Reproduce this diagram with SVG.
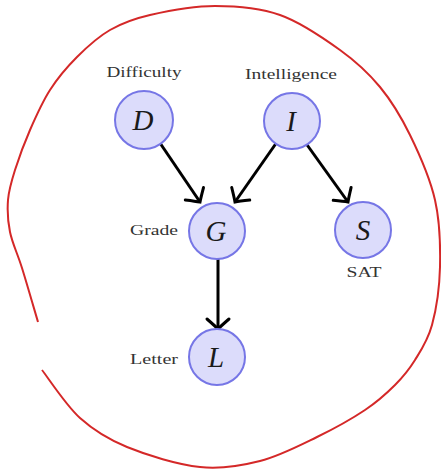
<svg xmlns="http://www.w3.org/2000/svg" width="441" height="469" viewBox="0 0 441 469">
<style>
.node circle{fill:#dcdcfb;stroke:#7676e6;stroke-width:2}
.node text.v{font-family:"Liberation Serif",serif;font-style:italic;font-size:29px;fill:#1a1a1a;text-anchor:middle}
.lbl{font-family:"Liberation Serif",serif;font-size:15px;fill:#333;text-anchor:middle}
.edge{stroke:#000;stroke-width:3;fill:none}
</style>
<defs>
<marker id="ah" markerUnits="userSpaceOnUse" markerWidth="30" markerHeight="30" refX="0" refY="0" viewBox="-15 -15 30 30" orient="auto" overflow="visible">
<path d="M-10,-11 Q-3,-3 0,0 Q-3,3 -10,11" fill="none" stroke="#000" stroke-width="3" stroke-linecap="round"/>
</marker>
</defs>
<rect width="441" height="469" fill="#fff"/>
<path d="M42,370 C48.3,378 65.8,405.2 80,418 C94.2,430.8 107,438.8 127,447 C147,455.2 177.8,464.7 200,467 C222.2,469.3 240.5,466 260,461 C279.5,456 299.5,445.5 317,437 C334.5,428.5 352,418.7 365,410 C378,401.3 386.7,393.3 395,385 C403.3,376.7 408.8,370 415,360 C421.2,350 427.8,340.5 432,325 C436.2,309.5 439.5,287.8 440,267 C440.5,246.2 440,222 435,200 C430,178 419.2,153.8 410,135 C400.8,116.2 391.7,101.2 380,87 C368.3,72.8 356.7,62 340,50 C323.3,38 300.8,22.3 280,15 C259.2,7.7 236.7,6 215,6 C193.3,6 167.5,11 150,15 C132.5,19 122.2,23 110,30 C97.8,37 87,47 77,57 C67,67 57.8,77.8 50,90 C42.2,102.2 35.8,116.7 30,130 C24.2,143.3 18.7,158.3 15,170 C11.3,181.7 8.8,189.7 8,200 C7.2,210.3 7.7,220.7 10,232 C12.3,243.3 17.3,253 22,268 C26.7,283 35.3,313 38,322" fill="none" stroke="#d42828" stroke-width="2"/>
<g id="edges">
<line class="edge" x1="160" y1="143" x2="200" y2="202" marker-end="url(#ah)"/>
<line class="edge" x1="277" y1="142" x2="235" y2="202" marker-end="url(#ah)"/>
<line class="edge" x1="305" y1="142" x2="348" y2="202" marker-end="url(#ah)"/>
<line class="edge" x1="218" y1="259" x2="218" y2="329" marker-end="url(#ah)"/>
</g>
<g id="D" class="node"><circle cx="144" cy="120" r="29"/><text class="v" x="143" y="130">D</text><text class="lbl" x="144" y="77" textLength="75" lengthAdjust="spacingAndGlyphs">Difficulty</text></g>
<g id="I" class="node"><circle cx="292" cy="121" r="28"/><text class="v" x="291" y="131">I</text><text class="lbl" x="291" y="79" textLength="92" lengthAdjust="spacingAndGlyphs">Intelligence</text></g>
<g id="G" class="node"><circle cx="217" cy="231" r="28"/><text class="v" x="216" y="241">G</text><text class="lbl" x="154" y="235" textLength="48" lengthAdjust="spacingAndGlyphs">Grade</text></g>
<g id="S" class="node"><circle cx="363" cy="230" r="28"/><text class="v" x="363" y="240">S</text><text class="lbl" x="364" y="277" textLength="35" lengthAdjust="spacingAndGlyphs">SAT</text></g>
<g id="L" class="node"><circle cx="217" cy="357" r="28"/><text class="v" x="216" y="367">L</text><text class="lbl" x="154" y="364" textLength="48" lengthAdjust="spacingAndGlyphs">Letter</text></g>
</svg>
